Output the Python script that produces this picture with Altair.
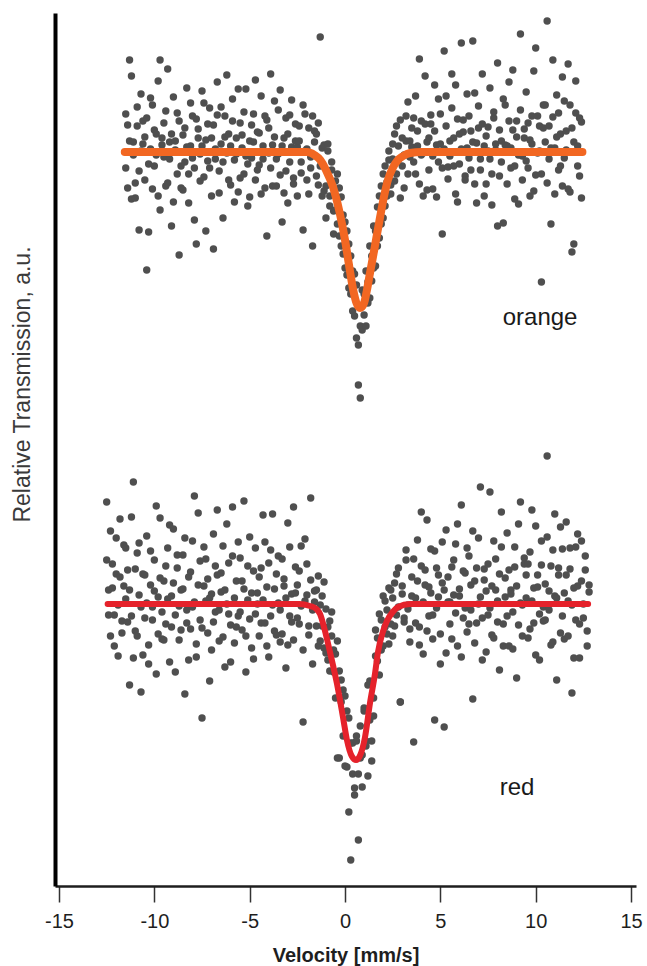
import altair as alt
import pandas as pd

# ---------------- data ----------------
orange_v = [
    -11.5, -11.4, -11.3, -11.2, -11.1, -11.0, -10.9, -10.8, -10.7, -10.6,
    -10.5, -10.4, -10.3, -10.2, -10.1, -10.0, -9.9, -9.8, -9.7, -9.6,
    -9.5, -9.4, -9.3, -9.2, -9.1, -9.0, -8.9, -8.8, -8.7, -8.6,
    -8.5, -8.4, -8.3, -8.2, -8.1, -8.0, -7.9, -7.8, -7.7, -7.6,
    -7.5, -7.4, -7.3, -7.2, -7.1, -7.0, -6.9, -6.8, -6.7, -6.6,
    -6.5, -6.4, -6.3, -6.2, -6.1, -6.0, -5.9, -5.8, -5.7, -5.6,
    -5.5, -5.4, -5.3, -5.2, -5.1, -5.0, -4.9, -4.8, -4.7, -4.6,
    -4.5, -4.4, -4.3, -4.2, -4.1, -4.0, -3.9, -3.8, -3.7, -3.6,
    -3.5, -3.4, -3.3, -3.2, -3.1, -3.0, -2.9, -2.8, -2.7, -2.6,
    -2.5, -2.4, -2.3, -2.2, -2.1, -2.0, -1.9, -1.8, -1.7, -1.6,
    -1.5, -1.4, -1.3, -1.2, -1.1, -1.0, -0.9, -0.8, -0.7, -0.6,
    -0.5, -0.4, -0.3, -0.2, -0.1, 0.0, 0.1, 0.2, 0.3, 0.4,
    0.5, 0.6, 0.7, 0.8, 0.9, 1.0, 1.1, 1.2, 1.3, 1.4,
    1.5, 1.6, 1.7, 1.8, 1.9, 2.0, 2.1, 2.2, 2.3, 2.4,
    2.5, 2.6, 2.7, 2.8, 2.9, 3.0, 3.1, 3.2, 3.3, 3.4,
    3.5, 3.6, 3.7, 3.8, 3.9, 4.0, 4.1, 4.2, 4.3, 4.4,
    4.5, 4.6, 4.7, 4.8, 4.9, 5.0, 5.1, 5.2, 5.3, 5.4,
    5.5, 5.6, 5.7, 5.8, 5.9, 6.0, 6.1, 6.2, 6.3, 6.4,
    6.5, 6.6, 6.7, 6.8, 6.9, 7.0, 7.1, 7.2, 7.3, 7.4,
    7.5, 7.6, 7.7, 7.8, 7.9, 8.0, 8.1, 8.2, 8.3, 8.4,
    8.5, 8.6, 8.7, 8.8, 8.9, 9.0, 9.1, 9.2, 9.3, 9.4,
    9.5, 9.6, 9.7, 9.8, 9.9, 10.0, 10.1, 10.2, 10.3, 10.4,
    10.5, 10.6, 10.7, 10.8, 10.9, 11.0, 11.1, 11.2, 11.3, 11.4,
    11.5, 11.6, 11.7, 11.8, 11.9, 12.0, 12.1, 12.2, 12.3, 12.4,
]
orange_a = [
    772, 698, 745, 810, 731, 688, 760, 715, 792, 742,
    706, 768, 654, 737, 781, 720, 752, 690, 826, 748,
    729, 775, 703, 744, 660, 789, 736, 712, 765, 698,
    751, 724, 798, 683, 740, 770, 718, 642, 757, 732,
    795, 709, 746, 725, 778, 690, 761, 737, 804, 715,
    742, 668, 770, 733, 752, 701, 787, 726, 748, 694,
    763, 738, 712, 797, 680, 745, 728, 772, 706, 754,
    721, 790, 740, 698, 766, 733, 812, 700, 749, 727,
    776, 711, 740, 693, 768, 752, 724, 786, 702, 745,
    739, 760, 713, 781, 735, 706, 758, 729, 770, 744,
    752, 701, 849, 690, 741, 668, 735, 680, 724, 652,
    705, 662, 698, 640, 671, 618, 655, 598, 630, 575,
    612, 548, 501, 560, 596, 571, 615, 583, 640, 605,
    660, 620, 679, 648, 700, 668, 720, 690, 735, 701,
    742, 705, 760, 726, 688, 748, 731, 770, 712, 745,
    758, 724, 790, 740, 702, 765, 733, 810, 696, 748,
    771, 730, 755, 689, 787, 742, 718, 835, 760, 707,
    745, 778, 720, 801, 684, 752, 737, 766, 710, 792,
    728, 755, 845, 702, 743, 780, 716, 762, 690, 750,
    735, 798, 712, 768, 742, 660, 756, 724, 787, 741,
    702, 765, 738, 816, 720, 749, 682, 776, 730, 757,
    794, 718, 746, 770, 695, 838, 733, 760, 712, 781,
    744, 865, 727, 662, 769, 738, 791, 716, 752, 700,
    785, 736, 822, 694, 758, 642, 773, 740, 710, 764,
]
orange_b = [
    718, 761, 826, 687, 744, 703, 779, 656, 735, 765,
    749, 616, 722, 788, 697, 756, 731, 805, 676, 741,
    763, 700, 817, 727, 752, 684, 745, 773, 631, 720,
    696, 758, 739, 712, 783, 728, 666, 767, 748, 705,
    740, 783, 655, 762, 718, 748, 637, 727, 771, 693,
    779, 724, 749, 811, 706, 740, 765, 684, 732, 797,
    708, 751, 774, 730, 722, 689, 761, 744, 806, 716,
    753, 692, 727, 770, 650, 758, 718, 741, 785, 700,
    732, 796, 664, 748, 715, 683, 771, 739, 708, 762,
    690, 745, 724, 656, 772, 737, 692, 718, 640, 755,
    710, 763, 720, 738, 695, 700, 742, 690, 716, 675,
    676, 712, 650, 689, 632, 664, 611, 642, 592, 615,
    570, 601, 541, 488, 556, 592, 560, 604, 588, 630,
    618, 655, 640, 690, 662, 712, 680, 704, 726, 692,
    727, 752, 712, 740, 766, 720, 698, 745, 784, 729,
    739, 768, 712, 755, 827, 731, 690, 762, 744, 716,
    762, 697, 801, 741, 724, 772, 652, 737, 790, 719,
    730, 812, 748, 692, 767, 722, 843, 754, 706, 738,
    770, 716, 744, 793, 683, 758, 727, 812, 740, 702,
    759, 727, 681, 774, 736, 823, 710, 745, 663, 781,
    740, 804, 718, 756, 687, 765, 731, 852, 706, 748,
    725, 763, 690, 742, 815, 711, 770, 735, 604, 758,
    781, 703, 760, 738, 826, 692, 749, 773, 720, 809,
    728, 755, 697, 781, 634, 744, 805, 720, 768, 688,
]

red_v = [
    -12.5, -12.4, -12.3, -12.2, -12.1, -12.0, -11.9, -11.8, -11.7, -11.6,
    -11.5, -11.4, -11.3, -11.2, -11.1, -11.0, -10.9, -10.8, -10.7, -10.6,
    -10.5, -10.4, -10.3, -10.2, -10.1, -10.0, -9.9, -9.8, -9.7, -9.6,
    -9.5, -9.4, -9.3, -9.2, -9.1, -9.0, -8.9, -8.8, -8.7, -8.6,
    -8.5, -8.4, -8.3, -8.2, -8.1, -8.0, -7.9, -7.8, -7.7, -7.6,
    -7.5, -7.4, -7.3, -7.2, -7.1, -7.0, -6.9, -6.8, -6.7, -6.6,
    -6.5, -6.4, -6.3, -6.2, -6.1, -6.0, -5.9, -5.8, -5.7, -5.6,
    -5.5, -5.4, -5.3, -5.2, -5.1, -5.0, -4.9, -4.8, -4.7, -4.6,
    -4.5, -4.4, -4.3, -4.2, -4.1, -4.0, -3.9, -3.8, -3.7, -3.6,
    -3.5, -3.4, -3.3, -3.2, -3.1, -3.0, -2.9, -2.8, -2.7, -2.6,
    -2.5, -2.4, -2.3, -2.2, -2.1, -2.0, -1.9, -1.8, -1.7, -1.6,
    -1.5, -1.4, -1.3, -1.2, -1.1, -1.0, -0.9, -0.8, -0.7, -0.6,
    -0.5, -0.4, -0.3, -0.2, -0.1, 0.0, 0.1, 0.2, 0.3, 0.4,
    0.5, 0.6, 0.7, 0.8, 0.9, 1.0, 1.1, 1.2, 1.3, 1.4,
    1.5, 1.6, 1.7, 1.8, 1.9, 2.0, 2.1, 2.2, 2.3, 2.4,
    2.5, 2.6, 2.7, 2.8, 2.9, 3.0, 3.1, 3.2, 3.3, 3.4,
    3.5, 3.6, 3.7, 3.8, 3.9, 4.0, 4.1, 4.2, 4.3, 4.4,
    4.5, 4.6, 4.7, 4.8, 4.9, 5.0, 5.1, 5.2, 5.3, 5.4,
    5.5, 5.6, 5.7, 5.8, 5.9, 6.0, 6.1, 6.2, 6.3, 6.4,
    6.5, 6.6, 6.7, 6.8, 6.9, 7.0, 7.1, 7.2, 7.3, 7.4,
    7.5, 7.6, 7.7, 7.8, 7.9, 8.0, 8.1, 8.2, 8.3, 8.4,
    8.5, 8.6, 8.7, 8.8, 8.9, 9.0, 9.1, 9.2, 9.3, 9.4,
    9.5, 9.6, 9.7, 9.8, 9.9, 10.0, 10.1, 10.2, 10.3, 10.4,
    10.5, 10.6, 10.7, 10.8, 10.9, 11.0, 11.1, 11.2, 11.3, 11.4,
    11.5, 11.6, 11.7, 11.8, 11.9, 12.0, 12.1, 12.2, 12.3, 12.4,
    12.5, 12.6, 12.7, 12.8,
]
red_a = [
    384, 296, 250, 322, 271, 348, 230, 309, 265, 341,
    287, 316, 201, 270, 404, 255, 333, 291, 194, 312,
    268, 350, 241, 301, 279, 326, 212, 289, 368, 247,
    305, 262, 338, 224, 290, 357, 271, 318, 246, 296,
    331, 192, 276, 309, 257, 345, 284, 229, 373, 266,
    168, 300, 327, 253, 288, 236, 352, 274, 311, 245,
    294, 340, 219, 282, 323, 261, 379, 243, 305, 270,
    328, 256, 297, 214, 286, 349, 238, 315, 272, 293,
    250, 318, 371, 263, 299, 229, 336, 281, 255, 312,
    283, 244, 327, 300, 218, 363, 270, 292, 246, 319,
    301, 262, 340, 164, 285, 322, 251, 388, 276, 295,
    260, 310, 245, 290, 238, 277, 226, 265, 250, 214,
    232, 128, 215, 184, 196, 120, 175, 74, 26, 143,
    98, 150, 112, 160, 131, 178, 145, 110, 205, 125,
    170, 230, 248, 211, 266, 240, 285, 252, 298, 262,
    250, 303, 271, 318, 184, 292, 264, 336, 277, 244,
    309, 144, 288, 346, 259, 320, 232, 301, 366, 270,
    293, 247, 335, 278, 311, 222, 303, 159, 356, 284,
    262, 319, 291, 342, 240, 297, 381, 268, 313, 254,
    330, 276, 187, 305, 263, 348, 289, 226, 317, 295,
    271, 394, 300, 248, 327, 285, 216, 339, 262, 308,
    353, 240, 296, 274, 319, 208, 362, 283, 250, 328,
    288, 322, 257, 376, 298, 231, 311, 272, 345, 265,
    302, 430, 276, 241, 336, 290, 206, 318, 359, 270,
    247, 311, 285, 338, 193, 298, 266, 352, 228, 305,
    282, 330, 255, 301,
]
red_b = [
    326, 271, 355, 298, 240, 312, 281, 367, 253, 300,
    338, 264, 296, 369, 228, 317, 250, 343, 279, 231,
    311, 283, 222, 335, 266, 295, 380, 252, 308, 274,
    246, 320, 287, 361, 259, 303, 214, 331, 280, 256,
    297, 348, 263, 226, 314, 279, 390, 242, 301, 325,
    258, 339, 285, 307, 205, 292, 264, 320, 376, 276,
    313, 249, 296, 362, 272, 224, 330, 288, 259, 344,
    274, 305, 385, 250, 320, 267, 293, 227, 338, 282,
    309, 263, 286, 344, 240, 323, 270, 372, 297, 251,
    330, 276, 252, 307, 288, 241, 339, 264, 379, 293,
    268, 315, 280, 236, 347, 291, 260, 306, 222, 284,
    296, 240, 281, 260, 304, 233, 259, 215, 274, 236,
    188, 245, 128, 206, 150, 190, 119, 168, 143, 112,
    91, 145, 46, 128, 99, 175, 140, 201, 166, 145,
    188, 256, 225, 272, 236, 290, 259, 276, 242, 296,
    288, 260, 312, 279, 184, 300, 268, 326, 281, 257,
    290, 327, 263, 305, 241, 374, 284, 316, 255, 299,
    337, 271, 166, 318, 289, 252, 344, 296, 233, 309,
    284, 247, 326, 273, 362, 290, 229, 315, 278, 338,
    262, 301, 355, 243, 318, 282, 399, 268, 306, 234,
    322, 278, 251, 345, 296, 264, 312, 374, 240, 289,
    270, 316, 292, 237, 339, 300, 261, 384, 281, 322,
    311, 248, 334, 285, 263, 360, 299, 226, 321, 279,
    266, 349, 295, 320, 244, 372, 288, 311, 253, 337,
    293, 364, 250, 317, 281, 228, 339, 300, 262, 345,
    268, 316, 240, 294,
]

orange_fit_v = [-11.55, -2.0, -1.6, -1.3, -1.0, -0.63, -0.3, 0.0, 0.2, 0.42,
                0.6, 0.79, 1.0, 1.15, 1.31, 1.55, 1.84, 2.05, 2.25, 2.5,
                2.73, 3.05, 3.41, 4.0, 12.45]
orange_fit_y = [734, 734, 731, 726, 716, 699, 675, 646, 622, 597,
                583, 578, 583, 596, 613, 638, 669, 690, 706, 718,
                725, 730, 733, 734, 734]

red_fit_v = [-12.45, -2.4, -1.84, -1.5, -1.31, -1.05, -0.79, -0.42, -0.1, 0.1,
             0.35, 0.58, 0.8, 1.05, 1.31, 1.57, 1.73, 2.0, 2.2, 2.5,
             2.78, 3.41, 12.75]
red_fit_y = [282, 282, 280, 277, 272, 255, 234, 202, 168, 146,
             130, 126, 131, 149, 183, 212, 234, 255, 265, 274,
             279, 282, 282]

label_text = ["orange", "red"]
label_v = [10.23, 9.02]
label_y = [568, 98]

x_ticks = [-15, -10, -5, 0, 5, 10, 15]

# ---------------- tables ----------------
rows = []
for v, a, b in zip(orange_v, orange_a, orange_b):
    rows.append({"v": v, "t": a, "s": "orange"})
    rows.append({"v": v, "t": b, "s": "orange"})
for v, a, b in zip(red_v, red_a, red_b):
    rows.append({"v": v, "t": a, "s": "red"})
    rows.append({"v": v, "t": b, "s": "red"})
pts = pd.DataFrame(rows)

ofit = pd.DataFrame({"v": orange_fit_v, "t": orange_fit_y})
rfit = pd.DataFrame({"v": red_fit_v, "t": red_fit_y})
labels = pd.DataFrame({"v": label_v, "t": label_y, "txt": label_text})

FONT = "Liberation Sans"
xscale = alt.Scale(domain=[-15.21, 15.26], nice=False, zero=False)
yscale = alt.Scale(domain=[0, 873], nice=False, zero=False)

x_axis = alt.Axis(
    values=x_ticks, labelExpr="'' + datum.value", grid=False,
    domainColor="#1e1e1e", domainWidth=2.5,
    tickColor="#333333", tickWidth=1.5, tickSize=16,
    labelFont=FONT, labelFontSize=20, labelColor="#1e1e1e", labelPadding=9,
    labelFlush=False, labelOverlap=False,
    titleFont=FONT, titleFontSize=20, titleFontWeight="bold", titleColor="#1e1e1e",
    titleY=75, titleBaseline="alphabetic")
y_axis = alt.Axis(
    ticks=False, labels=False, grid=False,
    domainColor="#000000", domainWidth=4,
    titleFont=FONT, titleFontSize=23, titleFontWeight="normal", titleColor="#3a3a3a",
    titleAngle=270, titleX=-33, titleY=371, titleAlign="center", titleBaseline="middle")

X = alt.X("v:Q", scale=xscale, axis=x_axis, title="Velocity [mm/s]")
Y = alt.Y("t:Q", scale=yscale, axis=y_axis, title="Relative Transmission, a.u.")

points = alt.Chart(pts).mark_circle(size=55, color="#4f4f4f", opacity=1).encode(x=X, y=Y)

orange_line = alt.Chart(ofit).mark_line(
    color="#F26722", strokeWidth=8, strokeCap="round", interpolate="monotone"
).encode(x=X, y=Y)

red_line = alt.Chart(rfit).mark_line(
    color="#E5222B", strokeWidth=6, strokeCap="round", interpolate="monotone"
).encode(x=X, y=Y)

texts = alt.Chart(labels).mark_text(
    font=FONT, fontSize=24, color="#1a1a1a", align="center", baseline="middle"
).encode(x=X, y=Y, text="txt:N")

chart = alt.layer(points, orange_line, red_line, texts).properties(
    width=581, height=873,
    autosize=alt.AutoSizeParams(type="none"),
    padding={"left": 55, "top": 13, "right": 11, "bottom": 80},
    background="white",
).configure_view(strokeWidth=0)

chart.save("out.html", embed_options={"renderer": "svg", "actions": False})
